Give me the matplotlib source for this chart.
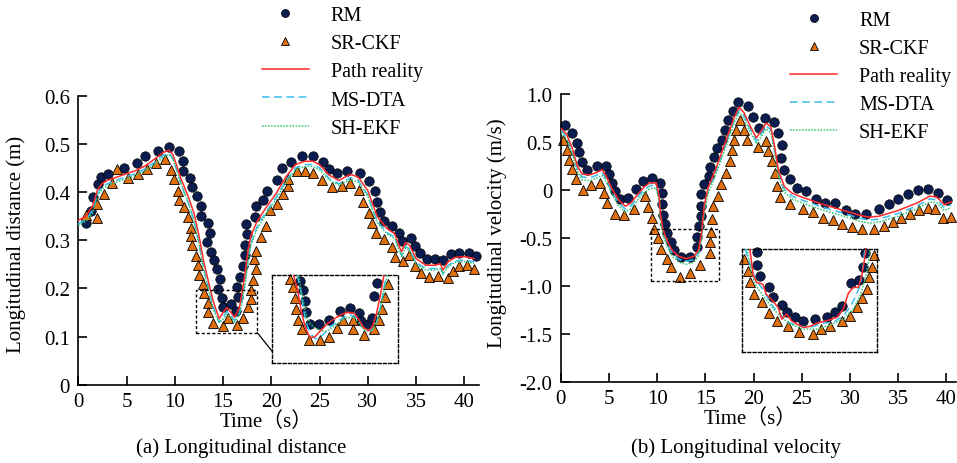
import matplotlib
matplotlib.use("Agg")
import matplotlib.pyplot as plt
from matplotlib.patches import Rectangle
import numpy as np

plt.rcParams['font.family'] = ['Liberation Serif', 'Noto Sans CJK SC']
plt.rcParams['mathtext.fontset'] = 'stix'

# ---------------- (a) longitudinal distance ----------------
rm_a_x = [0.8, 1.28, 1.56, 2.01, 2.32, 3.04, 4.70, 6.12, 6.91, 8.29, 9.43, 10.40,
          10.88, 10.88, 11.58, 11.82, 12.27, 12.68, 12.68, 13.41, 13.65, 13.37, 13.75,
          14.1, 14.4, 14.68, 14.44, 14.86, 15.03, 15.82, 16.31, 16.58, 16.48, 16.76,
          17.1, 17.27, 17.27, 17.45, 17.35, 18.31, 18.42, 19.17, 19.6, 20.6, 21.06,
          22.0, 23.15, 24.29, 25.32, 26.0, 26.77, 27.88, 29.19, 30.17, 30.75, 30.99,
          31.26, 31.68, 32.48, 33.27, 33.58, 34.44, 34.89, 35.41, 36.1, 36.96, 37.83,
          38.59, 39.49, 40.52, 41.2]
rm_a_y = [0.335, 0.361, 0.390, 0.416, 0.432, 0.437, 0.449, 0.461, 0.474, 0.486, 0.494, 0.486,
          0.465, 0.444, 0.430, 0.410, 0.392, 0.371, 0.350, 0.336, 0.315, 0.297, 0.276,
          0.258, 0.240, 0.219, 0.198, 0.179, 0.161, 0.167, 0.154, 0.182, 0.203, 0.224,
          0.247, 0.269, 0.290, 0.312, 0.333, 0.349, 0.371, 0.383, 0.402, 0.426, 0.449,
          0.463, 0.475, 0.475, 0.463, 0.447, 0.439, 0.444, 0.440, 0.422, 0.402, 0.380,
          0.358, 0.340, 0.329, 0.315, 0.298, 0.305, 0.288, 0.274, 0.260, 0.260, 0.258,
          0.271, 0.274, 0.274, 0.2675]

sr_a_x = [0.8, 1.9, 1.97, 2.66, 3.53, 4.04, 5.18, 6.22, 7.15, 8.05, 8.98, 9.57, 9.92,
          10.36, 10.43, 10.95, 11.33, 11.68, 11.68, 11.82, 12.16, 12.44, 12.51, 12.96,
          13.06, 13.47, 13.47, 13.99, 15.03, 15.54, 16.41, 17.03, 17.55, 17.9, 17.9,
          18.07, 18.38, 18.24, 18.38, 18.9, 19.41, 19.86, 20.62, 21.18, 21.76, 21.76,
          22.63, 23.49, 24.35, 25.28, 26.26, 27.3, 28.16, 29.12, 29.53, 30.12, 30.4,
          30.85, 31.71, 32.48, 32.82, 33.61, 34.3, 34.89, 35.48, 36.37, 37.24, 38.34,
          38.86, 39.49, 40.31, 41.04]
sr_a_y = [0.352, 0.375, 0.347, 0.396, 0.418, 0.447, 0.430, 0.4375, 0.447, 0.460, 0.468, 0.446, 0.4265,
          0.403, 0.383, 0.369, 0.349, 0.326, 0.309, 0.290, 0.267, 0.248, 0.227, 0.210,
          0.190, 0.170, 0.151, 0.128, 0.122, 0.138, 0.123, 0.139, 0.161, 0.177, 0.196,
          0.218, 0.241, 0.260, 0.277, 0.307, 0.329, 0.3625, 0.376, 0.396, 0.4125, 0.428,
          0.444, 0.444, 0.440, 0.425, 0.411, 0.413, 0.418, 0.404, 0.380, 0.357, 0.336,
          0.315, 0.3035, 0.286, 0.265, 0.256, 0.269, 0.247, 0.232, 0.224, 0.226, 0.222,
          0.236, 0.246, 0.248, 0.241]

line_a_x = [0, 0.8, 1.5, 2.0, 2.5, 3.0, 4.0, 5.0, 6.0, 7.0, 8.0, 8.8, 9.4, 9.8, 10.2,
            10.6, 11.0, 11.5, 12.0, 12.5, 13.0, 13.5, 14.0, 14.6, 15.0, 15.4, 15.8, 16.2,
            16.7, 17.0, 17.3, 17.6, 17.9, 18.5, 19.5, 20.5, 21.5, 22.5, 23.5, 24.3, 25.0,
            26.0, 27.0, 28.2, 29.0, 30.0, 30.5, 31.0, 32.0, 32.8, 33.3, 33.5, 33.9, 34.3,
            35.0, 36.0, 37.0, 37.5, 37.8, 38.3, 39.0, 40.0, 41.0]
path_a = [0.341, 0.350, 0.372, 0.405, 0.418, 0.424, 0.431, 0.438, 0.445, 0.455, 0.470, 0.482, 0.487, 0.478, 0.455,
          0.430, 0.410, 0.385, 0.355, 0.310, 0.255, 0.213, 0.172, 0.137, 0.150, 0.160, 0.150, 0.140,
          0.160, 0.195, 0.234, 0.280, 0.310, 0.338, 0.369, 0.397, 0.431, 0.457, 0.464, 0.464, 0.457,
          0.435, 0.424, 0.437, 0.431, 0.403, 0.375, 0.348, 0.324, 0.313, 0.285, 0.276, 0.295, 0.290,
          0.262, 0.248, 0.248, 0.251, 0.238, 0.255, 0.264, 0.266, 0.262]
msdta_a = [0.334, 0.343, 0.362, 0.396, 0.411, 0.417, 0.425, 0.432, 0.439, 0.449, 0.463, 0.476, 0.481, 0.470, 0.445,
           0.420, 0.398, 0.372, 0.340, 0.295, 0.242, 0.200, 0.160, 0.130, 0.140, 0.152, 0.144, 0.133,
           0.148, 0.178, 0.215, 0.262, 0.296, 0.327, 0.360, 0.389, 0.423, 0.450, 0.457, 0.457, 0.450,
           0.428, 0.417, 0.430, 0.424, 0.394, 0.364, 0.338, 0.316, 0.306, 0.278, 0.268, 0.287, 0.282,
           0.254, 0.241, 0.241, 0.244, 0.231, 0.247, 0.257, 0.259, 0.255]
shekf_a = [0.331, 0.339, 0.357, 0.392, 0.407, 0.413, 0.421, 0.428, 0.435, 0.445, 0.459, 0.472, 0.478, 0.468, 0.446,
           0.421, 0.399, 0.372, 0.338, 0.292, 0.238, 0.196, 0.157, 0.128, 0.136, 0.147, 0.140, 0.130,
           0.146, 0.175, 0.210, 0.256, 0.290, 0.322, 0.356, 0.385, 0.419, 0.446, 0.453, 0.453, 0.446,
           0.425, 0.414, 0.426, 0.420, 0.392, 0.362, 0.336, 0.313, 0.303, 0.276, 0.266, 0.284, 0.279,
           0.251, 0.238, 0.238, 0.241, 0.229, 0.244, 0.254, 0.256, 0.252]

# zoomed view (a), in box fractions
ins_a_rm_u = [0.225, 0.244, 0.257, 0.265, 0.297, 0.369, 0.456, 0.536, 0.621, 0.690, 0.708, 0.761, 0.793, 0.809, 0.836]
ins_a_rm_v = [0.935, 0.829, 0.707, 0.582, 0.449, 0.441, 0.494, 0.593, 0.627, 0.574, 0.479, 0.441, 0.513, 0.764, 0.913]
ins_a_sr_u = [0.138, 0.164, 0.180, 0.191, 0.207, 0.239, 0.292, 0.377, 0.451, 0.517, 0.562, 0.647, 0.642, 0.735,
              0.814, 0.854, 0.875, 0.902, 0.926]
ins_a_sr_v = [0.962, 0.867, 0.741, 0.620, 0.494, 0.392, 0.259, 0.259, 0.297, 0.399, 0.494, 0.487, 0.384, 0.323,
              0.392, 0.487, 0.620, 0.753, 0.905]
ins_a_path_u = [0.17, 0.20, 0.23, 0.26, 0.29, 0.31, 0.34, 0.38, 0.44, 0.50, 0.56, 0.61, 0.66, 0.70, 0.73, 0.77,
                0.80, 0.83, 0.86, 0.89]
ins_a_path_v = [1.0, 0.85, 0.60, 0.42, 0.32, 0.29, 0.30, 0.36, 0.45, 0.51, 0.56, 0.58, 0.56, 0.47, 0.40, 0.37,
                0.42, 0.56, 0.76, 1.0]
ins_a_ms_u = [0.20, 0.23, 0.25, 0.28, 0.31, 0.34, 0.37, 0.41, 0.47, 0.53, 0.58, 0.62, 0.67, 0.71, 0.75, 0.79,
              0.83, 0.86, 0.89, 0.91]
ins_a_ms_v = [1.0, 0.80, 0.60, 0.42, 0.33, 0.28, 0.28, 0.33, 0.42, 0.48, 0.53, 0.55, 0.52, 0.43, 0.37, 0.37,
              0.45, 0.62, 0.85, 1.0]
ins_a_sh_u = [0.21, 0.24, 0.27, 0.30, 0.34, 0.38, 0.43, 0.48, 0.54, 0.60, 0.65, 0.69, 0.73, 0.77, 0.81, 0.85,
              0.88, 0.91, 0.92]
ins_a_sh_v = [1.0, 0.75, 0.55, 0.45, 0.40, 0.37, 0.36, 0.40, 0.47, 0.52, 0.52, 0.46, 0.38, 0.36, 0.40, 0.55,
              0.75, 0.95, 1.0]

# ---------------- (b) longitudinal velocity ----------------
rm_b_x = [0.45, 1.21, 1.73, 1.92, 2.18, 2.76, 3.78, 4.74, 5.0, 5.29, 5.63, 6.15, 7.01, 7.81,
          8.57, 9.45, 10.3, 10.48, 10.54, 10.58, 10.82, 11.06, 11.41, 11.75, 12.48, 13.41,
          14.17, 14.17, 14.38, 14.52, 14.52, 14.52, 14.87, 15.38, 15.49, 15.90, 16.25,
          16.70, 17.04, 17.35, 17.85, 18.34, 19.42, 19.98, 20.52, 21.22, 22.13, 22.55,
          22.92, 22.90, 23.14, 23.77, 24.46, 25.42, 26.53, 27.46, 28.43, 29.57, 30.5,
          31.71, 33.02, 34.06, 35.0, 36.03, 37.06, 38.1, 39.14, 40.07]
rm_b_y = [0.678, 0.600, 0.497, 0.403, 0.292, 0.212, 0.255, 0.251, 0.165, 0.074, -0.006, -0.092, -0.084, 0.014,
          0.098, 0.128, 0.071, -0.032, -0.138, -0.252, -0.355, -0.449, -0.542, -0.622, -0.692, -0.692,
          -0.594, -0.484, -0.369, -0.265, -0.161, -0.040, 0.065, 0.151, 0.238, 0.342, 0.439,
          0.522, 0.626, 0.730, 0.827, 0.915, 0.877, 0.759, 0.650, 0.755, 0.710, 0.600,
          0.473, 0.339, 0.211, 0.114, 0.021, -0.007, -0.087, -0.128, -0.128, -0.208, -0.249,
          -0.249, -0.197, -0.145, -0.093, -0.042, 0.0, 0.01, -0.024, -0.10]

sr_b_x = [0.21, 0.62, 0.90, 1.14, 1.55, 2.28, 3.11, 4.08, 4.49, 4.84, 5.63, 6.60, 7.63, 8.7,
          9.1, 9.44, 9.7, 10.05, 10.4, 11.0, 11.4, 12.37, 13.37, 14.45, 15.48, 15.45, 15.6,
          15.72, 15.8, 16.3, 16.6, 17.13, 17.55, 17.8, 18.0, 18.2, 18.6, 19.05, 19.33,
          20.43, 21.27, 21.54, 21.9, 22.21, 22.45, 22.73, 23.77, 25.15, 26.18, 27.22,
          28.26, 29.22, 30.22, 31.3, 32.5, 33.54, 34.47, 35.34, 36.2, 37.17, 38.1, 38.79,
          39.65, 40.52]
sr_b_y = [0.522, 0.419, 0.315, 0.218, 0.121, 0.003, 0.055, 0.073, -0.031, -0.135, -0.242, -0.256, -0.190, -0.062,
          -0.170, -0.283, -0.400, -0.500, -0.606, -0.716, -0.803, -0.905, -0.864, -0.773, -0.652, -0.543, -0.436,
          -0.300, -0.166, -0.058, 0.063, 0.183, 0.305, 0.420, 0.522, 0.625, 0.735, 0.630, 0.527,
          0.446, 0.509, 0.405, 0.304, 0.183, 0.045, -0.066, -0.145, -0.197, -0.225, -0.284,
          -0.311, -0.353, -0.381, -0.398, -0.398, -0.370, -0.325, -0.284, -0.242, -0.204, -0.180, -0.197,
          -0.284, -0.273]

line_b_x = [0, 0.6, 1.2, 1.7, 2.2, 3.0, 3.7, 4.3, 4.7, 5.3, 6.0, 6.7, 7.3, 8.0, 8.7, 9.3, 9.9,
            10.2, 10.35, 10.6, 11.0, 11.6, 12.3, 13.0, 13.8, 14.3, 14.6, 14.9, 15.3, 16.0, 16.8,
            17.5, 18.0, 18.5, 19.0, 19.6, 20.3, 20.8, 21.3, 21.8, 22.2, 22.6, 23.2, 24.0, 25.0,
            27.0, 29.0, 31.0, 32.0, 33.0, 35.0, 37.0, 38.3, 39.0, 39.8, 40.5]
path_b = [0.645, 0.585, 0.44, 0.26, 0.17, 0.16, 0.185, 0.215, 0.15, 0.02, -0.10, -0.165, -0.13, -0.04, 0.04, 0.08, 0.08,
          -0.05, -0.25, -0.40, -0.52, -0.63, -0.69, -0.71, -0.69, -0.62, -0.45, -0.15, 0.03, 0.20, 0.42,
          0.62, 0.76, 0.865, 0.81, 0.68, 0.545, 0.62, 0.70, 0.66, 0.45, 0.20, 0.04, -0.03, -0.07,
          -0.14, -0.20, -0.26, -0.28, -0.27, -0.21, -0.13, -0.06, -0.07, -0.15, -0.12]
msdta_b = [0.625, 0.56, 0.41, 0.23, 0.14, 0.13, 0.155, 0.185, 0.12, -0.01, -0.13, -0.195, -0.16, -0.07, 0.01, 0.05, 0.05,
           -0.08, -0.28, -0.43, -0.55, -0.66, -0.72, -0.74, -0.72, -0.65, -0.48, -0.19, 0.0, 0.17, 0.39,
           0.59, 0.73, 0.835, 0.78, 0.65, 0.515, 0.59, 0.67, 0.63, 0.42, 0.17, 0.01, -0.06, -0.10,
           -0.17, -0.23, -0.29, -0.31, -0.30, -0.24, -0.16, -0.09, -0.10, -0.18, -0.15]
shekf_b = [0.60, 0.535, 0.385, 0.20, 0.11, 0.10, 0.125, 0.155, 0.09, -0.04, -0.16, -0.225, -0.19, -0.10, -0.02, 0.02, 0.02,
           -0.11, -0.31, -0.46, -0.58, -0.69, -0.75, -0.77, -0.75, -0.68, -0.51, -0.22, -0.03, 0.14, 0.36,
           0.56, 0.70, 0.805, 0.75, 0.62, 0.485, 0.56, 0.64, 0.60, 0.39, 0.14, -0.02, -0.09, -0.13,
           -0.20, -0.26, -0.32, -0.34, -0.33, -0.27, -0.19, -0.12, -0.13, -0.21, -0.18]

# zoomed view (b), in box fractions
ins_b_rm_u = [0.116, 0.116, 0.136, 0.205, 0.235, 0.296, 0.338, 0.395, 0.457, 0.543, 0.630, 0.691, 0.741,
              0.807, 0.869, 0.896, 0.916]
ins_b_rm_v = [0.968, 0.847, 0.740, 0.627, 0.536, 0.458, 0.390, 0.334, 0.295, 0.318, 0.334, 0.383, 0.448,
              0.666, 0.698, 0.828, 0.958]
ins_b_sr_u = [0.017, 0.044, 0.062, 0.094, 0.148, 0.202, 0.259, 0.346, 0.427, 0.526, 0.585, 0.654, 0.746,
              0.802, 0.852, 0.889, 0.931, 0.946, 0.968, 0.983]
ins_b_sr_v = [0.903, 0.789, 0.675, 0.562, 0.487, 0.373, 0.295, 0.253, 0.188, 0.172, 0.221, 0.253, 0.302,
              0.351, 0.432, 0.523, 0.610, 0.724, 0.821, 0.942]
ins_b_path_u = [0.06, 0.086, 0.111, 0.156, 0.18, 0.23, 0.27, 0.296, 0.333, 0.37, 0.407, 0.457, 0.506, 0.556,
                0.63, 0.704, 0.753, 0.79, 0.827, 0.864, 0.889, 0.906, 0.921]
ins_b_path_v = [1.0, 0.74, 0.675, 0.659, 0.562, 0.497, 0.43, 0.318, 0.367, 0.30, 0.27, 0.237, 0.247, 0.279,
                0.302, 0.334, 0.416, 0.571, 0.627, 0.627, 0.74, 0.87, 1.0]
ins_b_ms_u = [0.025, 0.062, 0.099, 0.165, 0.21, 0.247, 0.296, 0.346, 0.407, 0.506, 0.605, 0.679, 0.753,
              0.802, 0.84, 0.877, 0.896, 0.906, 0.914]
ins_b_ms_v = [1.0, 0.854, 0.708, 0.594, 0.48, 0.416, 0.351, 0.286, 0.253, 0.237, 0.279, 0.286, 0.351,
              0.432, 0.529, 0.643, 0.805, 0.935, 1.0]
ins_b_sh_u = [0.037, 0.067, 0.099, 0.148, 0.21, 0.279, 0.358, 0.457, 0.556, 0.654, 0.753, 0.827, 0.877,
              0.914, 0.938, 0.951]
ins_b_sh_v = [1.0, 0.805, 0.659, 0.562, 0.455, 0.351, 0.27, 0.221, 0.221, 0.26, 0.318, 0.416, 0.545,
              0.708, 0.87, 1.0]

C_RM = "#0b1d4f"
C_SR = "#e0700f"
C_PATH = "#ff2a2a"
C_MS = "#3bbcec"
C_SH = "#2fc46e"
FS = 15
FS_LEG = 14.5
MS = 6.8
BOX_LS = (0, (2.2, 1.6))


def draw_series(ax, rx, ry, sx, sy, lx, p, m, s, lw=1.1):
    ax.plot(lx, p, color=C_PATH, lw=lw, zorder=4, label="Path reality")
    ax.plot(lx, m, color=C_MS, lw=lw, ls=(0, (5, 3)), zorder=3, label="MS-DTA")
    ax.plot(lx, s, color=C_SH, lw=lw, ls=(0, (1, 1)), zorder=3, label="SH-EKF")
    ax.plot(rx, ry, ls="none", marker="o", ms=MS, mfc=C_RM, mec="#000000", mew=0.5,
            zorder=2, label="RM", clip_on=False)
    ax.plot(sx, sy, ls="none", marker="^", ms=MS, mfc=C_SR, mec="#000000", mew=0.6,
            zorder=2, label="SR-CKF", clip_on=False)


def style_axes(ax):
    for side in ("top", "right"):
        ax.spines[side].set_visible(False)
    for side in ("left", "bottom"):
        ax.spines[side].set_linewidth(1.2)
    ax.tick_params(direction="in", length=6.5, width=1.2, labelsize=FS)
    ax.tick_params(axis="x", pad=5)
    ax.tick_params(axis="y", pad=6)


def add_zoom(ax, small, big, rm, sr, lines):
    (sx0, sx1, sy0, sy1) = small
    (bx0, bx1, by0, by1) = big
    ax.add_patch(Rectangle((sx0, sy0), sx1 - sx0, sy1 - sy0, fill=False,
                           ec="black", lw=1.0, ls=BOX_LS, zorder=6))
    ins = ax.inset_axes([bx0, by0, bx1 - bx0, by1 - by0], transform=ax.transData)
    ins.set_xlim(0, 1)
    ins.set_ylim(0, 1)
    ins.set_xticks([])
    ins.set_yticks([])
    ins.patch.set_alpha(0)
    for sp in ins.spines.values():
        sp.set_linestyle(BOX_LS)
        sp.set_linewidth(1.0)
    (pu, pv), (mu, mv), (hu, hv) = lines
    ins.plot(pu, pv, color=C_PATH, lw=1.1, zorder=4)
    ins.plot(mu, mv, color=C_MS, lw=1.1, ls=(0, (5, 3)), zorder=3)
    ins.plot(hu, hv, color=C_SH, lw=1.1, ls=(0, (1, 1)), zorder=3)
    ins.plot(rm[0], rm[1], ls="none", marker="o", ms=MS, mfc=C_RM, mec="#000000",
             mew=0.5, zorder=2, clip_on=False)
    ins.plot(sr[0], sr[1], ls="none", marker="^", ms=MS, mfc=C_SR, mec="#000000",
             mew=0.6, zorder=2, clip_on=False)
    return ins


fig = plt.figure(figsize=(9.57, 4.64), dpi=100)
ax1 = fig.add_axes([0.0818, 0.1688, 0.4185, 0.6228])
ax2 = fig.add_axes([0.5859, 0.1735, 0.4130, 0.6213])

# (a)
draw_series(ax1, rm_a_x, rm_a_y, sr_a_x, sr_a_y, line_a_x, path_a, msdta_a, shekf_a)
ax1.set_xlim(0, 41.5)
ax1.set_ylim(0, 0.6)
ax1.set_xticks(np.arange(0, 41, 5))
ax1.set_yticks([0, 0.1, 0.2, 0.3, 0.4, 0.5, 0.6])
ax1.set_yticklabels(["0", "0.1", "0.2", "0.3", "0.4", "0.5", "0.6"])
style_axes(ax1)
add_zoom(ax1, (12.2, 18.55, 0.108, 0.196), (20.1, 33.1, 0.045, 0.227),
         (ins_a_rm_u, ins_a_rm_v), (ins_a_sr_u, ins_a_sr_v),
         [(ins_a_path_u, ins_a_path_v), (ins_a_ms_u, ins_a_ms_v), (ins_a_sh_u, ins_a_sh_v)])
ax1.plot([18.55, 20.1], [0.108, 0.069], color="black", lw=0.9, zorder=6)
ax1.set_xlabel("Time（s）", fontsize=FS)
ax1.xaxis.set_label_coords(0.47, -0.09)
ax1.set_ylabel("Longitudinal distance (m)", fontsize=FS)
ax1.yaxis.set_label_coords(-0.13, 0.49)

# (b)
draw_series(ax2, rm_b_x, rm_b_y, sr_b_x, sr_b_y, line_b_x, path_b, msdta_b, shekf_b)
ax2.set_xlim(0, 41)
ax2.set_ylim(-2.0, 1.0)
ax2.set_xticks(np.arange(0, 41, 5))
ax2.set_yticks(np.arange(-2.0, 1.01, 0.5))
ax2.set_yticklabels(["-2.0", "-1.5", "-1.0", "-0.5", "0", "0.5", "1.0"])
style_axes(ax2)
add_zoom(ax2, (9.37, 16.45, -0.948, -0.404), (18.78, 32.78, -1.68, -0.612),
         (ins_b_rm_u, ins_b_rm_v), (ins_b_sr_u, ins_b_sr_v),
         [(ins_b_path_u, ins_b_path_v), (ins_b_ms_u, ins_b_ms_v), (ins_b_sh_u, ins_b_sh_v)])
ax2.set_xlabel("Time（s）", fontsize=FS)
ax2.xaxis.set_label_coords(0.48, -0.09)
ax2.set_ylabel("Longitudinal velocity (m/s)", fontsize=FS)
ax2.yaxis.set_label_coords(-0.135, 0.52)

# legends
order = ["RM", "SR-CKF", "Path reality", "MS-DTA", "SH-EKF"]
for ax, anchor in ((ax1, (0.274, 0.985)), (ax2, (0.826, 0.975))):
    h, l = ax.get_legend_handles_labels()
    hd = dict(zip(l, h))
    ax.legend([hd[k] for k in order], order, loc="upper left", bbox_to_anchor=anchor,
              bbox_transform=fig.transFigure, frameon=False, fontsize=FS_LEG,
              handlelength=2.3, handletextpad=1.1, labelspacing=0.45,
              borderpad=0, borderaxespad=0, markerscale=0.85)

fig.text(0.252, 0.035, "(a) Longitudinal distance", ha="center", va="center", fontsize=FS)
fig.text(0.769, 0.035, "(b) Longitudinal velocity", ha="center", va="center", fontsize=FS)

fig.savefig("out.png", dpi=100)
